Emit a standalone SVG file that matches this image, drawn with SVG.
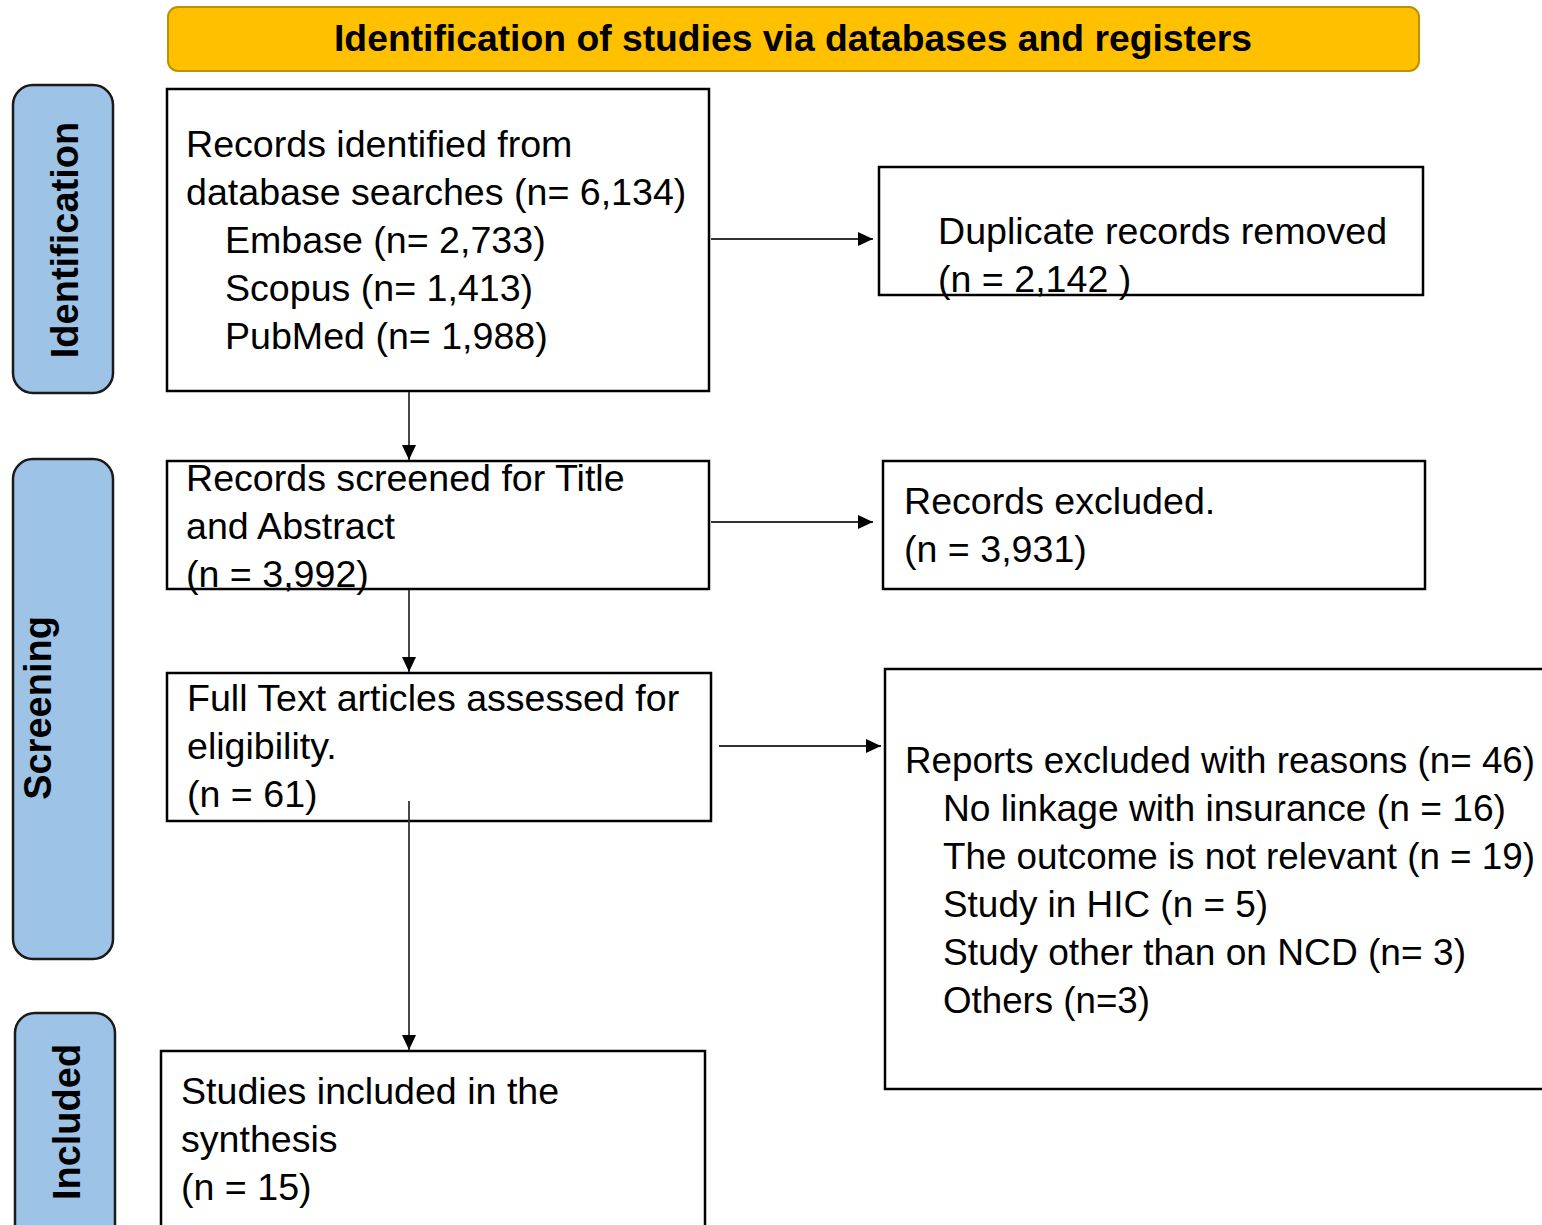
<svg xmlns="http://www.w3.org/2000/svg" width="1542" height="1225" viewBox="0 0 1542 1225">
<defs>
<style>
.box{fill:#ffffff;stroke:#000000;stroke-width:2.5}
.side{fill:#9DC3E6;stroke:#1a1a1a;stroke-width:2.5}
.t{font-family:"Liberation Sans",Arial,sans-serif;font-size:37.6px;fill:#000000}
.tn{font-size:36.3px}
.sl{font-family:"Liberation Sans",Arial,sans-serif;font-size:38px;font-weight:bold;fill:#000000;text-anchor:middle}
.hd{font-family:"Liberation Sans",Arial,sans-serif;font-size:37px;font-weight:bold;fill:#000000;text-anchor:middle}
.c{fill:none;stroke:#333333;stroke-width:1.8}
</style>
<marker id="ah" markerWidth="15" markerHeight="14" refX="15" refY="7" orient="auto" markerUnits="userSpaceOnUse">
<path d="M0,0 L15,7 L0,14 Z" fill="#000000"/>
</marker>
</defs>
<rect width="1542" height="1225" fill="#ffffff"/>

<g id="header">
<rect x="168" y="7" width="1251" height="64" rx="10" fill="#FFC000" stroke="#BF9000" stroke-width="2"/>
<text class="hd" x="793" y="51" textLength="918" lengthAdjust="spacingAndGlyphs">Identification of studies via databases and registers</text>
</g>

<g id="side-identification">
<rect class="side" x="13" y="85" width="100" height="308" rx="20"/>
<text class="sl" transform="translate(78,240) rotate(-90)">Identification</text>
</g>
<g id="side-screening">
<rect class="side" x="13" y="459" width="100" height="500" rx="20"/>
<text class="sl" transform="translate(51,708) rotate(-90)">Screening</text>
</g>
<g id="side-included">
<rect class="side" x="15" y="1013" width="100" height="260" rx="20"/>
<text class="sl" transform="translate(80,1122) rotate(-90)">Included</text>
</g>

<g id="records-identified">
<rect class="box" x="167" y="89" width="542" height="302"/>
<text class="t" x="186" y="157">Records identified from</text>
<text class="t" x="186" y="205">database searches (n= 6,134)</text>
<text class="t" x="225" y="253">Embase (n= 2,733)</text>
<text class="t" x="225" y="301">Scopus (n= 1,413)</text>
<text class="t" x="225" y="349">PubMed (n= 1,988)</text>
</g>

<g id="duplicates-removed">
<rect class="box" x="879" y="167" width="544" height="128"/>
<text class="t" x="938" y="244">Duplicate records removed</text>
<text class="t" x="938" y="292">(n = 2,142 )</text>
</g>

<g id="records-screened">
<rect class="box" x="167" y="461" width="542" height="128"/>
<text class="t" x="186" y="491">Records screened for Title</text>
<text class="t" x="186" y="539">and Abstract</text>
<text class="t" x="186" y="587">(n = 3,992)</text>
</g>

<g id="records-excluded">
<rect class="box" x="883" y="461" width="542" height="128"/>
<text class="t" x="904" y="514">Records excluded.</text>
<text class="t" x="904" y="562">(n = 3,931)</text>
</g>

<g id="full-text">
<rect class="box" x="167" y="673" width="544" height="148"/>
<text class="t" x="187" y="711">Full Text articles assessed for</text>
<text class="t" x="187" y="759">eligibility.</text>
<text class="t" x="187" y="807">(n = 61)</text>
</g>

<g id="reports-excluded">
<rect class="box" x="885" y="669" width="700" height="420"/>
<text class="t tn" x="905" y="773" textLength="630" lengthAdjust="spacingAndGlyphs">Reports excluded with reasons (n= 46)</text>
<text class="t" x="943" y="821" textLength="563" lengthAdjust="spacingAndGlyphs">No linkage with insurance (n = 16)</text>
<text class="t tn" x="943" y="869" textLength="592" lengthAdjust="spacingAndGlyphs">The outcome is not relevant (n = 19)</text>
<text class="t" x="943" y="917" textLength="325" lengthAdjust="spacingAndGlyphs">Study in HIC (n = 5)</text>
<text class="t" x="943" y="965" textLength="523" lengthAdjust="spacingAndGlyphs">Study other than on NCD (n= 3)</text>
<text class="t" x="943" y="1013" textLength="207" lengthAdjust="spacingAndGlyphs">Others (n=3)</text>
</g>

<g id="studies-included">
<rect class="box" x="161" y="1051" width="544" height="220"/>
<text class="t" x="181" y="1104">Studies included in the</text>
<text class="t" x="181" y="1152">synthesis</text>
<text class="t" x="181" y="1200">(n = 15)</text>
</g>

<g id="connectors">
<line class="c" x1="711" y1="239" x2="873" y2="239" marker-end="url(#ah)"/>
<line class="c" x1="711" y1="522" x2="873" y2="522" marker-end="url(#ah)"/>
<line class="c" x1="719" y1="746" x2="881" y2="746" marker-end="url(#ah)"/>
<line class="c" x1="409" y1="392" x2="409" y2="460" marker-end="url(#ah)"/>
<line class="c" x1="409" y1="590" x2="409" y2="672" marker-end="url(#ah)"/>
<line class="c" x1="409" y1="801" x2="409" y2="1050" marker-end="url(#ah)"/>
</g>
</svg>
